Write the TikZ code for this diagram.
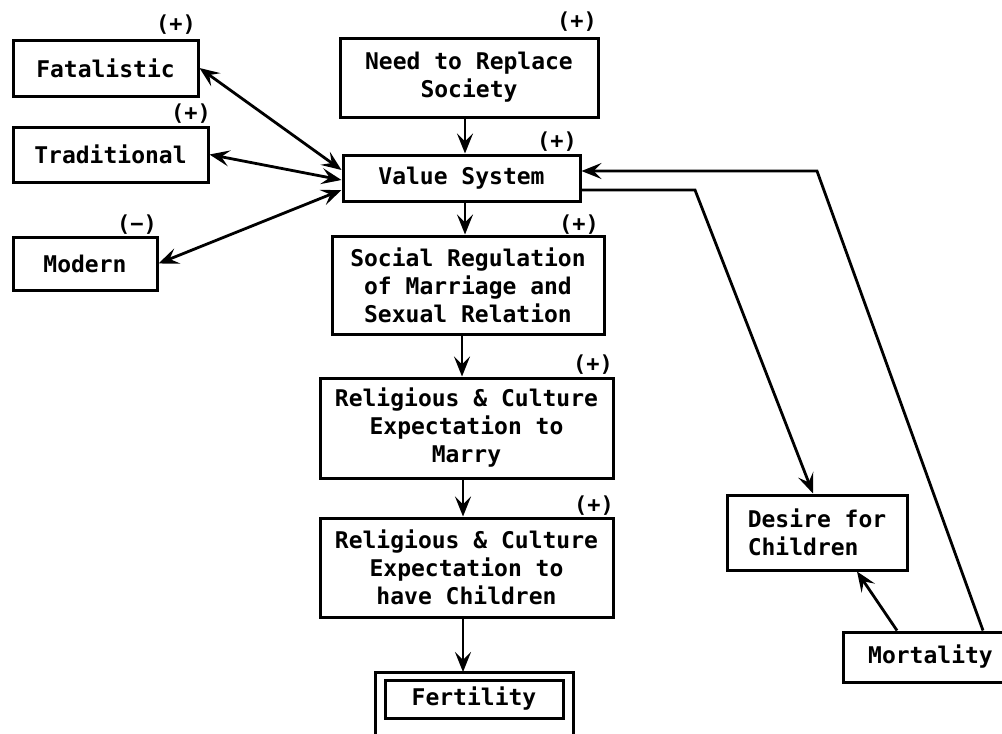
\documentclass[tikz,border=0pt]{standalone}
\usepackage{fontspec}
\newfontfamily\tw{DejaVu Sans Mono}
\usetikzlibrary{arrows.meta}
\begin{document}
\begin{tikzpicture}[x=1pt,y=-1pt,
  box/.style={draw, line width=3pt, inner sep=0pt, align=center,
    font=\tw\bfseries\fontsize{23}{28}\selectfont},
  sign/.style={inner sep=0pt, font=\tw\bfseries\fontsize{22}{24}\selectfont},
  tip/.tip={Stealth[length=20pt,width=16pt,inset=8pt]},
  link/.style={line width=2.8pt, -tip},
  twoway/.style={line width=2.8pt, tip-tip}]
\useasboundingbox (0,0) rectangle (1002,734);

% value orientations on the left
\node[box, minimum width=185pt, minimum height=56pt] (fat) at (105.5,68) {Fatalistic};
\node[box, minimum width=195pt, minimum height=55pt] (trad) at (110.5,154.5) {Traditional};
\node[box, minimum width=144pt, minimum height=53pt] (mod) at (85,263.5) {Modern};
\node[sign] (sfat) at (176,25) {(+)};
\node[sign] (strad) at (191,114) {(+)};
\node[sign] (smod) at (137,225) {(−)};

% central chain
\node[box, minimum width=258pt, minimum height=79pt] (need) at (469,77.5) {Need to Replace\\Society};
\node[box, minimum width=237pt, minimum height=46pt] (val) at (461.5,178) {Value System};
\node[box, minimum width=272pt, minimum height=98pt] (soc) at (468,285) {Social Regulation\\of Marriage and\\Sexual Relation};
\node[box, minimum width=293pt, minimum height=100pt] (rel1) at (466.5,428) {Religious \& Culture\\Expectation to\\Marry};
\node[box, minimum width=293pt, minimum height=99pt] (rel2) at (466.5,567.5) {Religious \& Culture\\Expectation to\\have Children};
\node[sign] (sneed) at (577,22) {(+)};
\node[sign] (sval) at (557,142) {(+)};
\node[sign] (ssoc) at (579,225) {(+)};
\node[sign] (srel1) at (593,365) {(+)};
\node[sign] (srel2) at (594,506) {(+)};

% outcome with double frame
\node[box, minimum width=178pt, minimum height=38pt] (fert) at (474,699) {Fertility};
\draw[line width=3pt] (375,745) -- (375,672) -- (573,672) -- (573,745);

% right-hand loop
\node[box, minimum width=180pt, minimum height=75pt, align=left] (des) at (817,532.5) {Desire for\\Children};
\node[box, minimum width=175pt, minimum height=50pt] (mort) at (930.5,657) {Mortality};

\coordinate (b1) at (695,190);
\coordinate (b2) at (817,171);

% connectors
\draw[link] (need.south -| 465,0) -- (val.north -| 465,0);
\draw[link] (val.south -| 465,0) -- (soc.north -| 465,0);
\draw[link] (soc.south -| 462,0) -- (rel1.north -| 462,0);
\draw[link] (rel1.south -| 463,0) -- (rel2.north -| 463,0);
\draw[link] (rel2.south -| 463,0) -- (463,672);

\draw[twoway] (fat.east) -- ([yshift=8pt]val.west);
\draw[twoway] (trad.east) -- ([yshift=-2pt]val.west);
\draw[twoway] (mod.east) -- ([yshift=-12pt]val.west);

\draw[link] ([yshift=-12pt]val.east) -- (b1) -- ([xshift=-4pt]des.north);
\draw[link] ([xshift=52.5pt]mort.north) -- (b2) -- ([yshift=7pt]val.east);
\draw[link] ([xshift=-33.5pt]mort.north) -- ([xshift=40pt]des.south);
\end{tikzpicture}
\end{document}
